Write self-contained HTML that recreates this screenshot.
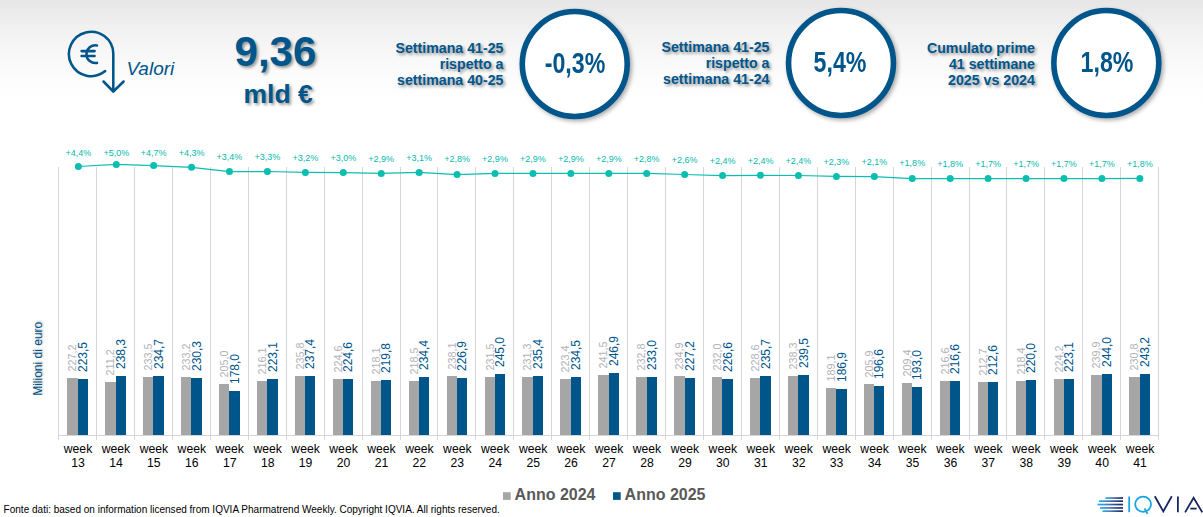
<!DOCTYPE html>
<html><head><meta charset="utf-8"><title>Valori</title>
<style>
html,body{margin:0;padding:0}
body{width:1203px;height:517px;position:relative;overflow:hidden;background:#fff;font-family:"Liberation Sans",sans-serif;}
.bg{position:absolute;left:0;top:0;width:1203px;height:104px;background:linear-gradient(to bottom,#e6e6e6 0%,#f0f0f0 25%,#f7f7f7 50%,#fcfcfc 75%,#ffffff 100%);}
.chart{position:absolute;left:0;top:0}
.t{position:absolute;color:#00558b;white-space:nowrap}
.sh{text-shadow:2px 2px 3px rgba(0,0,0,.4)}
.blk{font-weight:bold;font-size:14.2px;line-height:16.2px;text-align:right;width:200px}
.circ{position:absolute;width:99.6px;height:99.6px;border:5.5px solid #00558b;border-radius:50%;background:#fff;box-shadow:2px 3px 4px rgba(0,0,0,.28)}
.cv{position:absolute;color:#00558b;font-weight:bold;font-size:29px;line-height:29px;width:160px;text-align:center;transform:scaleX(.80);transform-origin:50% 50%;white-space:nowrap}
</style></head><body>
<div class="bg"></div>
<svg class="chart" width="1203" height="517" viewBox="0 0 1203 517" font-family="Liberation Sans, sans-serif">
<line x1="58.50" y1="167" x2="58.50" y2="440" stroke="#d6d6d6" stroke-width="1" shape-rendering="crispEdges"/>
<line x1="96.50" y1="167" x2="96.50" y2="440" stroke="#d6d6d6" stroke-width="1" shape-rendering="crispEdges"/>
<line x1="134.50" y1="167" x2="134.50" y2="440" stroke="#d6d6d6" stroke-width="1" shape-rendering="crispEdges"/>
<line x1="172.50" y1="167" x2="172.50" y2="440" stroke="#d6d6d6" stroke-width="1" shape-rendering="crispEdges"/>
<line x1="210.50" y1="167" x2="210.50" y2="440" stroke="#d6d6d6" stroke-width="1" shape-rendering="crispEdges"/>
<line x1="248.50" y1="167" x2="248.50" y2="440" stroke="#d6d6d6" stroke-width="1" shape-rendering="crispEdges"/>
<line x1="286.50" y1="167" x2="286.50" y2="440" stroke="#d6d6d6" stroke-width="1" shape-rendering="crispEdges"/>
<line x1="324.50" y1="167" x2="324.50" y2="440" stroke="#d6d6d6" stroke-width="1" shape-rendering="crispEdges"/>
<line x1="362.50" y1="167" x2="362.50" y2="440" stroke="#d6d6d6" stroke-width="1" shape-rendering="crispEdges"/>
<line x1="400.50" y1="167" x2="400.50" y2="440" stroke="#d6d6d6" stroke-width="1" shape-rendering="crispEdges"/>
<line x1="437.50" y1="167" x2="437.50" y2="440" stroke="#d6d6d6" stroke-width="1" shape-rendering="crispEdges"/>
<line x1="475.50" y1="167" x2="475.50" y2="440" stroke="#d6d6d6" stroke-width="1" shape-rendering="crispEdges"/>
<line x1="513.50" y1="167" x2="513.50" y2="440" stroke="#d6d6d6" stroke-width="1" shape-rendering="crispEdges"/>
<line x1="551.50" y1="167" x2="551.50" y2="440" stroke="#d6d6d6" stroke-width="1" shape-rendering="crispEdges"/>
<line x1="589.50" y1="167" x2="589.50" y2="440" stroke="#d6d6d6" stroke-width="1" shape-rendering="crispEdges"/>
<line x1="627.50" y1="167" x2="627.50" y2="440" stroke="#d6d6d6" stroke-width="1" shape-rendering="crispEdges"/>
<line x1="665.50" y1="167" x2="665.50" y2="440" stroke="#d6d6d6" stroke-width="1" shape-rendering="crispEdges"/>
<line x1="703.50" y1="167" x2="703.50" y2="440" stroke="#d6d6d6" stroke-width="1" shape-rendering="crispEdges"/>
<line x1="741.50" y1="167" x2="741.50" y2="440" stroke="#d6d6d6" stroke-width="1" shape-rendering="crispEdges"/>
<line x1="779.50" y1="167" x2="779.50" y2="440" stroke="#d6d6d6" stroke-width="1" shape-rendering="crispEdges"/>
<line x1="817.50" y1="167" x2="817.50" y2="440" stroke="#d6d6d6" stroke-width="1" shape-rendering="crispEdges"/>
<line x1="855.50" y1="167" x2="855.50" y2="440" stroke="#d6d6d6" stroke-width="1" shape-rendering="crispEdges"/>
<line x1="893.50" y1="167" x2="893.50" y2="440" stroke="#d6d6d6" stroke-width="1" shape-rendering="crispEdges"/>
<line x1="931.50" y1="167" x2="931.50" y2="440" stroke="#d6d6d6" stroke-width="1" shape-rendering="crispEdges"/>
<line x1="969.50" y1="167" x2="969.50" y2="440" stroke="#d6d6d6" stroke-width="1" shape-rendering="crispEdges"/>
<line x1="1006.50" y1="167" x2="1006.50" y2="440" stroke="#d6d6d6" stroke-width="1" shape-rendering="crispEdges"/>
<line x1="1044.50" y1="167" x2="1044.50" y2="440" stroke="#d6d6d6" stroke-width="1" shape-rendering="crispEdges"/>
<line x1="1082.50" y1="167" x2="1082.50" y2="440" stroke="#d6d6d6" stroke-width="1" shape-rendering="crispEdges"/>
<line x1="1120.50" y1="167" x2="1120.50" y2="440" stroke="#d6d6d6" stroke-width="1" shape-rendering="crispEdges"/>
<line x1="1158.50" y1="167" x2="1158.50" y2="440" stroke="#d6d6d6" stroke-width="1" shape-rendering="crispEdges"/>
<line x1="58" y1="435.5" x2="1159" y2="435.5" stroke="#d6d6d6" stroke-width="1" shape-rendering="crispEdges"/>
<rect x="67" y="378" width="11" height="57" fill="#a6a6a6"/>
<rect x="78" y="379" width="10" height="56" fill="#00558b"/>
<text transform="translate(76.40,371.50) rotate(-90)" font-size="10.8" fill="#b2b2b8">227,2</text>
<text transform="translate(87.30,372.00) rotate(-90)" font-size="12" fill="#00558b">223,5</text>
<text x="78.02" y="453.3" font-size="12.2" text-anchor="middle" fill="#000">week</text>
<text x="78.02" y="467.45" font-size="12.2" text-anchor="middle" fill="#000">13</text>
<rect x="105" y="382" width="11" height="53" fill="#a6a6a6"/>
<rect x="116" y="376" width="10" height="59" fill="#00558b"/>
<text transform="translate(114.40,375.50) rotate(-90)" font-size="10.8" fill="#b2b2b8">211,2</text>
<text transform="translate(125.30,369.00) rotate(-90)" font-size="12" fill="#00558b">238,3</text>
<text x="115.95" y="453.3" font-size="12.2" text-anchor="middle" fill="#000">week</text>
<text x="115.95" y="467.45" font-size="12.2" text-anchor="middle" fill="#000">14</text>
<rect x="143" y="377" width="10" height="58" fill="#a6a6a6"/>
<rect x="153" y="376" width="11" height="59" fill="#00558b"/>
<text transform="translate(151.90,370.50) rotate(-90)" font-size="10.8" fill="#b2b2b8">233,5</text>
<text transform="translate(162.80,369.00) rotate(-90)" font-size="12" fill="#00558b">234,7</text>
<text x="153.88" y="453.3" font-size="12.2" text-anchor="middle" fill="#000">week</text>
<text x="153.88" y="467.45" font-size="12.2" text-anchor="middle" fill="#000">15</text>
<rect x="181" y="377" width="10" height="58" fill="#a6a6a6"/>
<rect x="191" y="378" width="11" height="57" fill="#00558b"/>
<text transform="translate(189.90,370.50) rotate(-90)" font-size="10.8" fill="#b2b2b8">233,2</text>
<text transform="translate(200.80,371.00) rotate(-90)" font-size="12" fill="#00558b">230,3</text>
<text x="191.81" y="453.3" font-size="12.2" text-anchor="middle" fill="#000">week</text>
<text x="191.81" y="467.45" font-size="12.2" text-anchor="middle" fill="#000">16</text>
<rect x="219" y="384" width="10" height="51" fill="#a6a6a6"/>
<rect x="229" y="391" width="11" height="44" fill="#00558b"/>
<text transform="translate(227.90,377.50) rotate(-90)" font-size="10.8" fill="#b2b2b8">205,0</text>
<text transform="translate(238.80,384.00) rotate(-90)" font-size="12" fill="#00558b">178,0</text>
<text x="229.74" y="453.3" font-size="12.2" text-anchor="middle" fill="#000">week</text>
<text x="229.74" y="467.45" font-size="12.2" text-anchor="middle" fill="#000">17</text>
<rect x="257" y="381" width="10" height="54" fill="#a6a6a6"/>
<rect x="267" y="379" width="11" height="56" fill="#00558b"/>
<text transform="translate(265.90,374.50) rotate(-90)" font-size="10.8" fill="#b2b2b8">216,1</text>
<text transform="translate(276.80,372.00) rotate(-90)" font-size="12" fill="#00558b">223,1</text>
<text x="267.67" y="453.3" font-size="12.2" text-anchor="middle" fill="#000">week</text>
<text x="267.67" y="467.45" font-size="12.2" text-anchor="middle" fill="#000">18</text>
<rect x="295" y="376" width="10" height="59" fill="#a6a6a6"/>
<rect x="305" y="376" width="10" height="59" fill="#00558b"/>
<text transform="translate(303.90,369.50) rotate(-90)" font-size="10.8" fill="#b2b2b8">235,8</text>
<text transform="translate(314.30,369.00) rotate(-90)" font-size="12" fill="#00558b">237,4</text>
<text x="305.60" y="453.3" font-size="12.2" text-anchor="middle" fill="#000">week</text>
<text x="305.60" y="467.45" font-size="12.2" text-anchor="middle" fill="#000">19</text>
<rect x="333" y="379" width="10" height="56" fill="#a6a6a6"/>
<rect x="343" y="379" width="10" height="56" fill="#00558b"/>
<text transform="translate(341.90,372.50) rotate(-90)" font-size="10.8" fill="#b2b2b8">224,6</text>
<text transform="translate(352.30,372.00) rotate(-90)" font-size="12" fill="#00558b">224,6</text>
<text x="343.53" y="453.3" font-size="12.2" text-anchor="middle" fill="#000">week</text>
<text x="343.53" y="467.45" font-size="12.2" text-anchor="middle" fill="#000">20</text>
<rect x="371" y="381" width="10" height="54" fill="#a6a6a6"/>
<rect x="381" y="380" width="10" height="55" fill="#00558b"/>
<text transform="translate(379.90,374.50) rotate(-90)" font-size="10.8" fill="#b2b2b8">218,1</text>
<text transform="translate(390.30,373.00) rotate(-90)" font-size="12" fill="#00558b">219,8</text>
<text x="381.46" y="453.3" font-size="12.2" text-anchor="middle" fill="#000">week</text>
<text x="381.46" y="467.45" font-size="12.2" text-anchor="middle" fill="#000">21</text>
<rect x="409" y="381" width="10" height="54" fill="#a6a6a6"/>
<rect x="419" y="377" width="10" height="58" fill="#00558b"/>
<text transform="translate(417.90,374.50) rotate(-90)" font-size="10.8" fill="#b2b2b8">218,5</text>
<text transform="translate(428.30,370.00) rotate(-90)" font-size="12" fill="#00558b">234,4</text>
<text x="419.39" y="453.3" font-size="12.2" text-anchor="middle" fill="#000">week</text>
<text x="419.39" y="467.45" font-size="12.2" text-anchor="middle" fill="#000">22</text>
<rect x="447" y="376" width="10" height="59" fill="#a6a6a6"/>
<rect x="457" y="378" width="10" height="57" fill="#00558b"/>
<text transform="translate(455.90,369.50) rotate(-90)" font-size="10.8" fill="#b2b2b8">238,1</text>
<text transform="translate(466.30,371.00) rotate(-90)" font-size="12" fill="#00558b">226,9</text>
<text x="457.33" y="453.3" font-size="12.2" text-anchor="middle" fill="#000">week</text>
<text x="457.33" y="467.45" font-size="12.2" text-anchor="middle" fill="#000">23</text>
<rect x="485" y="377" width="10" height="58" fill="#a6a6a6"/>
<rect x="495" y="374" width="10" height="61" fill="#00558b"/>
<text transform="translate(493.90,370.50) rotate(-90)" font-size="10.8" fill="#b2b2b8">231,5</text>
<text transform="translate(504.30,367.00) rotate(-90)" font-size="12" fill="#00558b">245,0</text>
<text x="495.26" y="453.3" font-size="12.2" text-anchor="middle" fill="#000">week</text>
<text x="495.26" y="467.45" font-size="12.2" text-anchor="middle" fill="#000">24</text>
<rect x="522" y="377" width="11" height="58" fill="#a6a6a6"/>
<rect x="533" y="376" width="10" height="59" fill="#00558b"/>
<text transform="translate(531.40,370.50) rotate(-90)" font-size="10.8" fill="#b2b2b8">231,3</text>
<text transform="translate(542.30,369.00) rotate(-90)" font-size="12" fill="#00558b">235,4</text>
<text x="533.19" y="453.3" font-size="12.2" text-anchor="middle" fill="#000">week</text>
<text x="533.19" y="467.45" font-size="12.2" text-anchor="middle" fill="#000">25</text>
<rect x="560" y="379" width="11" height="56" fill="#a6a6a6"/>
<rect x="571" y="377" width="10" height="58" fill="#00558b"/>
<text transform="translate(569.40,372.50) rotate(-90)" font-size="10.8" fill="#b2b2b8">223,4</text>
<text transform="translate(580.30,370.00) rotate(-90)" font-size="12" fill="#00558b">234,5</text>
<text x="571.12" y="453.3" font-size="12.2" text-anchor="middle" fill="#000">week</text>
<text x="571.12" y="467.45" font-size="12.2" text-anchor="middle" fill="#000">26</text>
<rect x="598" y="375" width="11" height="60" fill="#a6a6a6"/>
<rect x="609" y="373" width="10" height="62" fill="#00558b"/>
<text transform="translate(607.40,368.50) rotate(-90)" font-size="10.8" fill="#b2b2b8">241,5</text>
<text transform="translate(618.30,366.00) rotate(-90)" font-size="12" fill="#00558b">246,9</text>
<text x="609.05" y="453.3" font-size="12.2" text-anchor="middle" fill="#000">week</text>
<text x="609.05" y="467.45" font-size="12.2" text-anchor="middle" fill="#000">27</text>
<rect x="636" y="377" width="11" height="58" fill="#a6a6a6"/>
<rect x="647" y="377" width="10" height="58" fill="#00558b"/>
<text transform="translate(645.40,370.50) rotate(-90)" font-size="10.8" fill="#b2b2b8">232,8</text>
<text transform="translate(656.30,370.00) rotate(-90)" font-size="12" fill="#00558b">233,0</text>
<text x="646.98" y="453.3" font-size="12.2" text-anchor="middle" fill="#000">week</text>
<text x="646.98" y="467.45" font-size="12.2" text-anchor="middle" fill="#000">28</text>
<rect x="674" y="376" width="11" height="59" fill="#a6a6a6"/>
<rect x="685" y="378" width="10" height="57" fill="#00558b"/>
<text transform="translate(683.40,369.50) rotate(-90)" font-size="10.8" fill="#b2b2b8">234,9</text>
<text transform="translate(694.30,371.00) rotate(-90)" font-size="12" fill="#00558b">227,2</text>
<text x="684.91" y="453.3" font-size="12.2" text-anchor="middle" fill="#000">week</text>
<text x="684.91" y="467.45" font-size="12.2" text-anchor="middle" fill="#000">29</text>
<rect x="712" y="377" width="10" height="58" fill="#a6a6a6"/>
<rect x="722" y="379" width="11" height="56" fill="#00558b"/>
<text transform="translate(720.90,370.50) rotate(-90)" font-size="10.8" fill="#b2b2b8">232,0</text>
<text transform="translate(731.80,372.00) rotate(-90)" font-size="12" fill="#00558b">226,6</text>
<text x="722.84" y="453.3" font-size="12.2" text-anchor="middle" fill="#000">week</text>
<text x="722.84" y="467.45" font-size="12.2" text-anchor="middle" fill="#000">30</text>
<rect x="750" y="378" width="10" height="57" fill="#a6a6a6"/>
<rect x="760" y="376" width="11" height="59" fill="#00558b"/>
<text transform="translate(758.90,371.50) rotate(-90)" font-size="10.8" fill="#b2b2b8">228,6</text>
<text transform="translate(769.80,369.00) rotate(-90)" font-size="12" fill="#00558b">235,7</text>
<text x="760.77" y="453.3" font-size="12.2" text-anchor="middle" fill="#000">week</text>
<text x="760.77" y="467.45" font-size="12.2" text-anchor="middle" fill="#000">31</text>
<rect x="788" y="376" width="10" height="59" fill="#a6a6a6"/>
<rect x="798" y="375" width="11" height="60" fill="#00558b"/>
<text transform="translate(796.90,369.50) rotate(-90)" font-size="10.8" fill="#b2b2b8">238,3</text>
<text transform="translate(807.80,368.00) rotate(-90)" font-size="12" fill="#00558b">239,5</text>
<text x="798.70" y="453.3" font-size="12.2" text-anchor="middle" fill="#000">week</text>
<text x="798.70" y="467.45" font-size="12.2" text-anchor="middle" fill="#000">32</text>
<rect x="826" y="388" width="10" height="47" fill="#a6a6a6"/>
<rect x="836" y="389" width="11" height="46" fill="#00558b"/>
<text transform="translate(834.90,381.50) rotate(-90)" font-size="10.8" fill="#b2b2b8">189,1</text>
<text transform="translate(845.80,382.00) rotate(-90)" font-size="12" fill="#00558b">186,9</text>
<text x="836.64" y="453.3" font-size="12.2" text-anchor="middle" fill="#000">week</text>
<text x="836.64" y="467.45" font-size="12.2" text-anchor="middle" fill="#000">33</text>
<rect x="864" y="384" width="10" height="51" fill="#a6a6a6"/>
<rect x="874" y="386" width="10" height="49" fill="#00558b"/>
<text transform="translate(872.90,377.50) rotate(-90)" font-size="10.8" fill="#b2b2b8">205,9</text>
<text transform="translate(883.30,379.00) rotate(-90)" font-size="12" fill="#00558b">196,6</text>
<text x="874.57" y="453.3" font-size="12.2" text-anchor="middle" fill="#000">week</text>
<text x="874.57" y="467.45" font-size="12.2" text-anchor="middle" fill="#000">34</text>
<rect x="902" y="383" width="10" height="52" fill="#a6a6a6"/>
<rect x="912" y="387" width="10" height="48" fill="#00558b"/>
<text transform="translate(910.90,376.50) rotate(-90)" font-size="10.8" fill="#b2b2b8">209,4</text>
<text transform="translate(921.30,380.00) rotate(-90)" font-size="12" fill="#00558b">193,0</text>
<text x="912.50" y="453.3" font-size="12.2" text-anchor="middle" fill="#000">week</text>
<text x="912.50" y="467.45" font-size="12.2" text-anchor="middle" fill="#000">35</text>
<rect x="940" y="381" width="10" height="54" fill="#a6a6a6"/>
<rect x="950" y="381" width="10" height="54" fill="#00558b"/>
<text transform="translate(948.90,374.50) rotate(-90)" font-size="10.8" fill="#b2b2b8">216,6</text>
<text transform="translate(959.30,374.00) rotate(-90)" font-size="12" fill="#00558b">216,6</text>
<text x="950.43" y="453.3" font-size="12.2" text-anchor="middle" fill="#000">week</text>
<text x="950.43" y="467.45" font-size="12.2" text-anchor="middle" fill="#000">36</text>
<rect x="978" y="382" width="10" height="53" fill="#a6a6a6"/>
<rect x="988" y="382" width="10" height="53" fill="#00558b"/>
<text transform="translate(986.90,375.50) rotate(-90)" font-size="10.8" fill="#b2b2b8">212,7</text>
<text transform="translate(997.30,375.00) rotate(-90)" font-size="12" fill="#00558b">212,6</text>
<text x="988.36" y="453.3" font-size="12.2" text-anchor="middle" fill="#000">week</text>
<text x="988.36" y="467.45" font-size="12.2" text-anchor="middle" fill="#000">37</text>
<rect x="1016" y="381" width="10" height="54" fill="#a6a6a6"/>
<rect x="1026" y="380" width="10" height="55" fill="#00558b"/>
<text transform="translate(1024.90,374.50) rotate(-90)" font-size="10.8" fill="#b2b2b8">218,4</text>
<text transform="translate(1035.30,373.00) rotate(-90)" font-size="12" fill="#00558b">220,0</text>
<text x="1026.29" y="453.3" font-size="12.2" text-anchor="middle" fill="#000">week</text>
<text x="1026.29" y="467.45" font-size="12.2" text-anchor="middle" fill="#000">38</text>
<rect x="1054" y="379" width="10" height="56" fill="#a6a6a6"/>
<rect x="1064" y="379" width="10" height="56" fill="#00558b"/>
<text transform="translate(1062.90,372.50) rotate(-90)" font-size="10.8" fill="#b2b2b8">224,2</text>
<text transform="translate(1073.30,372.00) rotate(-90)" font-size="12" fill="#00558b">223,1</text>
<text x="1064.22" y="453.3" font-size="12.2" text-anchor="middle" fill="#000">week</text>
<text x="1064.22" y="467.45" font-size="12.2" text-anchor="middle" fill="#000">39</text>
<rect x="1091" y="375" width="11" height="60" fill="#a6a6a6"/>
<rect x="1102" y="374" width="10" height="61" fill="#00558b"/>
<text transform="translate(1100.40,368.50) rotate(-90)" font-size="10.8" fill="#b2b2b8">239,9</text>
<text transform="translate(1111.30,367.00) rotate(-90)" font-size="12" fill="#00558b">244,0</text>
<text x="1102.15" y="453.3" font-size="12.2" text-anchor="middle" fill="#000">week</text>
<text x="1102.15" y="467.45" font-size="12.2" text-anchor="middle" fill="#000">40</text>
<rect x="1129" y="377" width="11" height="58" fill="#a6a6a6"/>
<rect x="1140" y="374" width="10" height="61" fill="#00558b"/>
<text transform="translate(1138.40,370.50) rotate(-90)" font-size="10.8" fill="#b2b2b8">230,8</text>
<text transform="translate(1149.30,367.00) rotate(-90)" font-size="12" fill="#00558b">243,2</text>
<text x="1140.08" y="453.3" font-size="12.2" text-anchor="middle" fill="#000">week</text>
<text x="1140.08" y="467.45" font-size="12.2" text-anchor="middle" fill="#000">41</text>
<polyline fill="none" stroke="#0bbeaf" stroke-width="1.25" points="78.37,166.50 116.30,164.40 153.63,165.60 191.56,167.30 229.49,171.50 267.42,171.50 305.35,172.40 343.28,172.50 381.21,173.40 419.14,172.40 457.08,174.50 495.01,173.40 532.94,173.40 570.87,173.40 608.80,173.40 646.73,173.40 684.66,174.50 722.59,175.50 760.52,175.30 798.45,175.50 836.39,176.40 874.32,176.60 912.25,178.50 950.18,178.50 988.11,178.50 1026.04,178.50 1063.97,178.50 1101.90,178.50 1139.83,178.40"/>
<circle cx="78.37" cy="166.50" r="3.5" fill="#0bbeaf"/>
<text x="78.37" y="155.70" font-size="9" text-anchor="middle" fill="#05b9ab">+4,4%</text>
<circle cx="116.30" cy="164.40" r="3.5" fill="#0bbeaf"/>
<text x="116.30" y="155.70" font-size="9" text-anchor="middle" fill="#05b9ab">+5,0%</text>
<circle cx="153.63" cy="165.60" r="3.5" fill="#0bbeaf"/>
<text x="153.63" y="155.70" font-size="9" text-anchor="middle" fill="#05b9ab">+4,7%</text>
<circle cx="191.56" cy="167.30" r="3.5" fill="#0bbeaf"/>
<text x="191.56" y="155.70" font-size="9" text-anchor="middle" fill="#05b9ab">+4,3%</text>
<circle cx="229.49" cy="171.50" r="3.5" fill="#0bbeaf"/>
<text x="229.49" y="159.70" font-size="9" text-anchor="middle" fill="#05b9ab">+3,4%</text>
<circle cx="267.42" cy="171.50" r="3.5" fill="#0bbeaf"/>
<text x="267.42" y="159.70" font-size="9" text-anchor="middle" fill="#05b9ab">+3,3%</text>
<circle cx="305.35" cy="172.40" r="3.5" fill="#0bbeaf"/>
<text x="305.35" y="160.50" font-size="9" text-anchor="middle" fill="#05b9ab">+3,2%</text>
<circle cx="343.28" cy="172.50" r="3.5" fill="#0bbeaf"/>
<text x="343.28" y="160.50" font-size="9" text-anchor="middle" fill="#05b9ab">+3,0%</text>
<circle cx="381.21" cy="173.40" r="3.5" fill="#0bbeaf"/>
<text x="381.21" y="161.80" font-size="9" text-anchor="middle" fill="#05b9ab">+2,9%</text>
<circle cx="419.14" cy="172.40" r="3.5" fill="#0bbeaf"/>
<text x="419.14" y="160.50" font-size="9" text-anchor="middle" fill="#05b9ab">+3,1%</text>
<circle cx="457.08" cy="174.50" r="3.5" fill="#0bbeaf"/>
<text x="457.08" y="161.80" font-size="9" text-anchor="middle" fill="#05b9ab">+2,8%</text>
<circle cx="495.01" cy="173.40" r="3.5" fill="#0bbeaf"/>
<text x="495.01" y="161.80" font-size="9" text-anchor="middle" fill="#05b9ab">+2,9%</text>
<circle cx="532.94" cy="173.40" r="3.5" fill="#0bbeaf"/>
<text x="532.94" y="161.80" font-size="9" text-anchor="middle" fill="#05b9ab">+2,9%</text>
<circle cx="570.87" cy="173.40" r="3.5" fill="#0bbeaf"/>
<text x="570.87" y="161.80" font-size="9" text-anchor="middle" fill="#05b9ab">+2,9%</text>
<circle cx="608.80" cy="173.40" r="3.5" fill="#0bbeaf"/>
<text x="608.80" y="161.80" font-size="9" text-anchor="middle" fill="#05b9ab">+2,9%</text>
<circle cx="646.73" cy="173.40" r="3.5" fill="#0bbeaf"/>
<text x="646.73" y="161.80" font-size="9" text-anchor="middle" fill="#05b9ab">+2,8%</text>
<circle cx="684.66" cy="174.50" r="3.5" fill="#0bbeaf"/>
<text x="684.66" y="162.80" font-size="9" text-anchor="middle" fill="#05b9ab">+2,6%</text>
<circle cx="722.59" cy="175.50" r="3.5" fill="#0bbeaf"/>
<text x="722.59" y="163.70" font-size="9" text-anchor="middle" fill="#05b9ab">+2,4%</text>
<circle cx="760.52" cy="175.30" r="3.5" fill="#0bbeaf"/>
<text x="760.52" y="163.70" font-size="9" text-anchor="middle" fill="#05b9ab">+2,4%</text>
<circle cx="798.45" cy="175.50" r="3.5" fill="#0bbeaf"/>
<text x="798.45" y="163.70" font-size="9" text-anchor="middle" fill="#05b9ab">+2,4%</text>
<circle cx="836.39" cy="176.40" r="3.5" fill="#0bbeaf"/>
<text x="836.39" y="164.90" font-size="9" text-anchor="middle" fill="#05b9ab">+2,3%</text>
<circle cx="874.32" cy="176.60" r="3.5" fill="#0bbeaf"/>
<text x="874.32" y="164.90" font-size="9" text-anchor="middle" fill="#05b9ab">+2,1%</text>
<circle cx="912.25" cy="178.50" r="3.5" fill="#0bbeaf"/>
<text x="912.25" y="165.80" font-size="9" text-anchor="middle" fill="#05b9ab">+1,8%</text>
<circle cx="950.18" cy="178.50" r="3.5" fill="#0bbeaf"/>
<text x="950.18" y="166.60" font-size="9" text-anchor="middle" fill="#05b9ab">+1,8%</text>
<circle cx="988.11" cy="178.50" r="3.5" fill="#0bbeaf"/>
<text x="988.11" y="166.60" font-size="9" text-anchor="middle" fill="#05b9ab">+1,7%</text>
<circle cx="1026.04" cy="178.50" r="3.5" fill="#0bbeaf"/>
<text x="1026.04" y="166.90" font-size="9" text-anchor="middle" fill="#05b9ab">+1,7%</text>
<circle cx="1063.97" cy="178.50" r="3.5" fill="#0bbeaf"/>
<text x="1063.97" y="166.90" font-size="9" text-anchor="middle" fill="#05b9ab">+1,7%</text>
<circle cx="1101.90" cy="178.50" r="3.5" fill="#0bbeaf"/>
<text x="1101.90" y="166.90" font-size="9" text-anchor="middle" fill="#05b9ab">+1,7%</text>
<circle cx="1139.83" cy="178.40" r="3.5" fill="#0bbeaf"/>
<text x="1139.83" y="166.90" font-size="9" text-anchor="middle" fill="#05b9ab">+1,8%</text>
<text transform="translate(41.8,395.8) rotate(-90)" font-size="12" fill="#00558b" style="text-shadow:1px 1px 2px rgba(0,0,0,.3)">Milioni di euro</text>
<rect x="503" y="492.2" width="7.7" height="7.7" fill="#a6a6a6"/>
<text x="514.6" y="499.9" font-size="16" font-weight="bold" fill="#595959">Anno 2024</text>
<rect x="613" y="492.2" width="7.7" height="7.7" fill="#00558b"/>
<text x="624.6" y="499.9" font-size="16" font-weight="bold" fill="#595959">Anno 2025</text>
<text x="3.6" y="512.7" font-size="10.03" fill="#000">Fonte dati: based on information licensed from IQVIA Pharmatrend Weekly. Copyright IQVIA. All rights reserved.</text>
<defs><linearGradient id="lg" x1="0" x2="1" y1="0" y2="0"><stop offset="0" stop-color="#19b0ea"/><stop offset="0.35" stop-color="#4f7fc0"/><stop offset="1" stop-color="#17265f"/></linearGradient></defs>
<rect x="1105.4" y="497.2" width="17.6" height="1.7" fill="url(#lg)"/>
<rect x="1099" y="500.3" width="24.0" height="1.7" fill="url(#lg)"/>
<rect x="1097.5" y="503.7" width="25.5" height="1.7" fill="url(#lg)"/>
<rect x="1100" y="507.09999999999997" width="23.0" height="1.7" fill="url(#lg)"/>
<rect x="1102.5" y="510.3" width="20.5" height="1.7" fill="url(#lg)"/>
<g fill="none" stroke-width="1.8" stroke-linecap="butt" stroke-linejoin="miter">
<line x1="1129.2" y1="496.5" x2="1129.2" y2="512.2" stroke="#14a5e3"/>
<ellipse cx="1143.1" cy="504.3" rx="7.9" ry="7.6" stroke="#14a5e3"/>
<line x1="1144.5" y1="508.5" x2="1147.6" y2="513.8" stroke="#14a5e3"/>
<polyline points="1154.8,496.3 1163.3,511.4 1171.8,496.3" stroke="#17265f"/>
<line x1="1177.9" y1="496.5" x2="1177.9" y2="512.2" stroke="#17265f"/>
<polyline points="1185.1,512.4 1193.6,497.7 1202.3,512.4" stroke="#17265f"/>
<line x1="1190.3" y1="508.6" x2="1196.6" y2="508.6" stroke="#17265f"/>
</g>
<g fill="none" stroke="#00558b" stroke-width="2.55" stroke-linecap="round" stroke-linejoin="round">
<path d="M105.2 71.1 A22.2 22.2 0 1 1 113.3 53.5 L113.3 91.3"/>
<path d="M103.5 81.5 L113.3 91.5 L123.6 81.5"/>
<path d="M97 45.4 A8.9 8.9 0 1 0 97 62.9"/>
<path d="M81.6 51.1 H94.6 M81.6 55.9 H94.6"/>
</g>
<circle cx="574.75" cy="64.0" r="52.45" fill="#fff" stroke="#00558b" stroke-width="5.6" style="filter:drop-shadow(2px 2.5px 2px rgba(0,0,0,.33))"/>
<circle cx="841.0" cy="63.0" r="52.45" fill="#fff" stroke="#00558b" stroke-width="5.6" style="filter:drop-shadow(2px 2.5px 2px rgba(0,0,0,.33))"/>
<circle cx="1106.3" cy="63.0" r="52.45" fill="#fff" stroke="#00558b" stroke-width="5.6" style="filter:drop-shadow(2px 2.5px 2px rgba(0,0,0,.33))"/>
</svg>
<div class="t" style="left:126.4px;top:59px;font-size:19px;font-style:italic;line-height:20px">Valori</div>
<div class="t sh" style="left:234.6px;top:31.2px;font-size:42px;font-weight:bold;line-height:42px">9,36</div>
<div class="t sh" style="left:243.5px;top:80.5px;font-size:26.5px;font-weight:bold;line-height:26px">mld €</div>
<div class="t sh blk" style="left:303.5px;top:39.9px">Settimana 41-25<br>rispetto a<br>settimana 40-25</div>
<div class="t sh blk" style="left:569.5px;top:39.0px">Settimana 41-25<br>rispetto a<br>settimana 41-24</div>
<div class="t sh blk" style="left:834.9px;top:39.7px">Cumulato prime<br>41 settimane<br>2025 vs 2024</div>
<div class="cv" style="left:495.3px;top:49.2px">-0,3%</div>
<div class="cv" style="left:760.2px;top:48.2px">5,4%</div>
<div class="cv" style="left:1027px;top:48.3px">1,8%</div>
</body></html>
